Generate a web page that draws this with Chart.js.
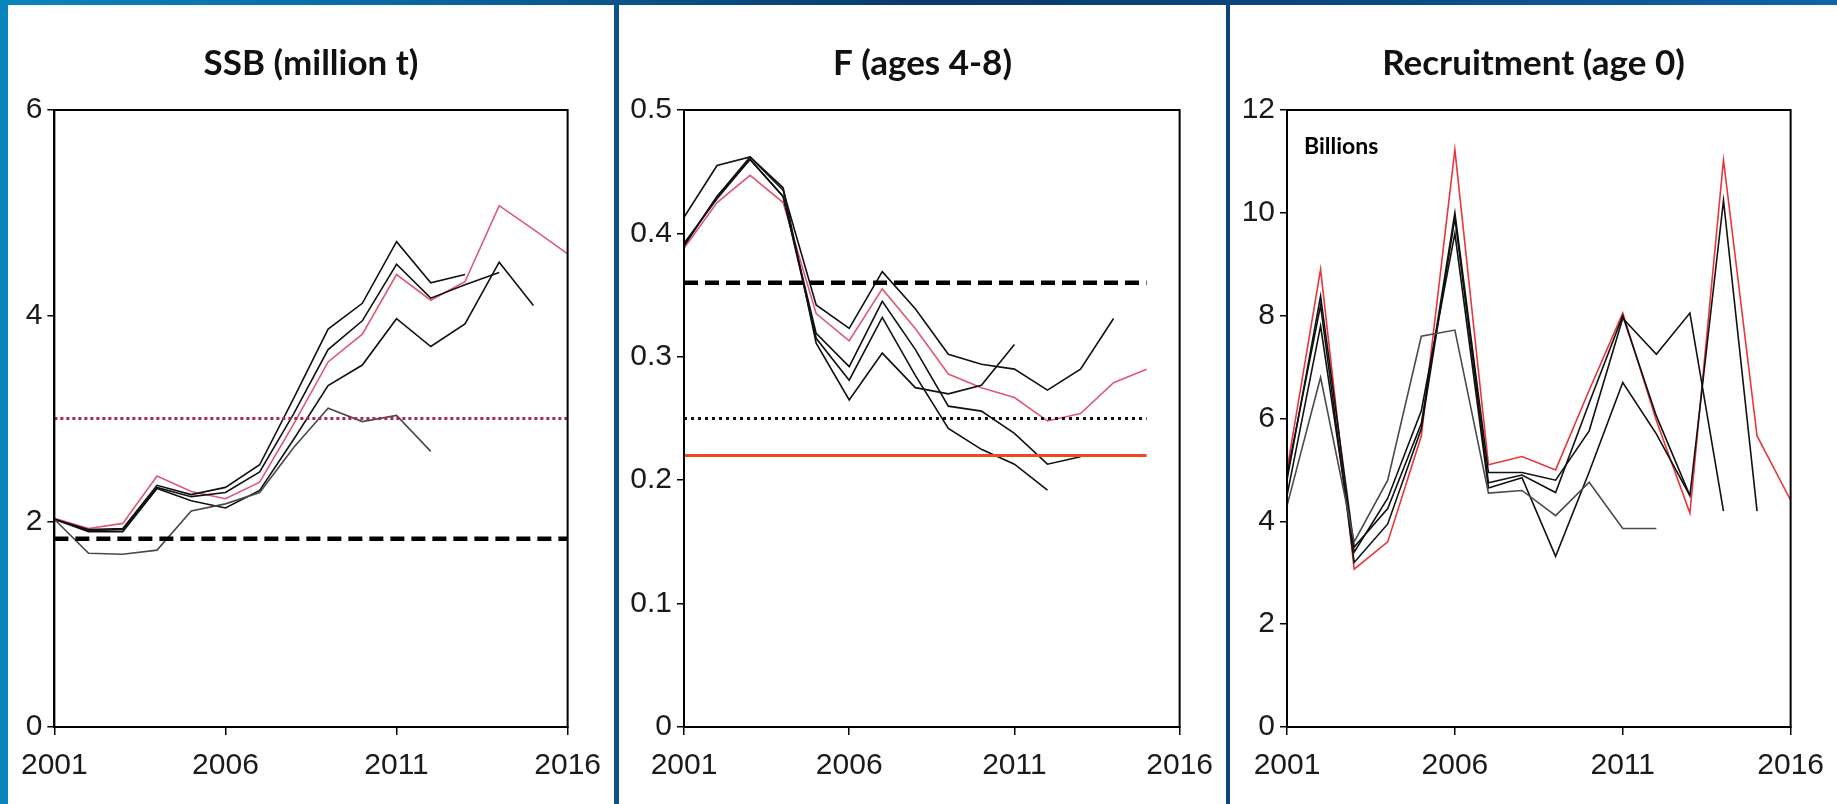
<!DOCTYPE html>
<html>
<head>
<meta charset="utf-8">
<title>Stock summary</title>
<script src="https://cdn.jsdelivr.net/npm/chart.js@4.4.1/dist/chart.umd.min.js"></script>
<style>
    html, body { margin: 0; padding: 0; }
    body {
        width: 1837px;
        height: 804px;
        overflow: hidden;
        position: relative;
        background: linear-gradient(90deg, #0a86bd 0%, #0a6aa4 20%, #0a3a6c 50%, #0b4a84 75%, #1064a6 100%);
    }
    .panel { position: absolute; top: 5px; height: 799px; background: #fff; }
    #p1 { left: 8px; width: 606px; }
    #p2 { left: 619px; width: 607px; }
    #p3 { left: 1230px; width: 607px; }
</style>
</head>
<body>
<div class="panel" id="p1"><canvas id="ssb-chart" width="606" height="799"></canvas></div>
<div class="panel" id="p2"><canvas id="f-chart" width="607" height="799"></canvas></div>
<div class="panel" id="p3"><canvas id="rec-chart" width="607" height="799"></canvas></div>
<script>
const years = [2001, 2002, 2003, 2004, 2005, 2006, 2007, 2008, 2009, 2010, 2011, 2012, 2013, 2014, 2015, 2016];
const yearTicks = [2001, 2006, 2011, 2016];

// spawning stock biomass (million t), one run per assessment
const ssb2012 = [2.02, 1.69, 1.68, 1.72, 2.10, 2.17, 2.28, 2.72, 3.10, 2.97, 3.03, 2.68];
const ssb2013 = [2.02, 1.92, 1.93, 2.35, 2.26, 2.33, 2.55, 3.20, 3.87, 4.12, 4.72, 4.32, 4.40];
const ssb2014 = [2.02, 1.91, 1.92, 2.33, 2.24, 2.28, 2.48, 3.05, 3.67, 3.95, 4.50, 4.17, 4.30, 4.42];
const ssb2015 = [2.02, 1.90, 1.90, 2.32, 2.20, 2.13, 2.30, 2.80, 3.32, 3.52, 3.97, 3.70, 3.92, 4.52, 4.10];
const ssb2016 = [2.03, 1.93, 1.98, 2.44, 2.29, 2.22, 2.38, 2.95, 3.55, 3.82, 4.40, 4.15, 4.33, 5.07, 4.84, 4.60];
const ssbBlim = 1.83;
const ssbBpa = 3.0;
const ssbTicks = [0, 2, 4, 6];

// fishing mortality, ages 4-8
const f2011 = [0.413, 0.455, 0.462, 0.437, 0.311, 0.265, 0.303, 0.275, 0.270, 0.277, 0.310];
const f2012 = [0.392, 0.428, 0.460, 0.430, 0.315, 0.281, 0.332, 0.285, 0.242, 0.225, 0.213, 0.192];
const f2013 = [0.390, 0.430, 0.460, 0.430, 0.319, 0.292, 0.345, 0.306, 0.260, 0.256, 0.238, 0.213, 0.219];
const f2014 = [0.390, 0.430, 0.462, 0.435, 0.342, 0.323, 0.369, 0.339, 0.302, 0.294, 0.290, 0.273, 0.290, 0.331];
const f2015 = [0.388, 0.425, 0.447, 0.425, 0.335, 0.313, 0.355, 0.323, 0.286, 0.275, 0.267, 0.248, 0.254, 0.279, 0.290];
const fLim = 0.36;
const fPa = 0.25;
const fMsy = 0.22;
const fRefLastYear = 2015;
const fTicks = [0, 0.1, 0.2, 0.3, 0.4, 0.5];

// recruitment at age 0 (billions)
const rec2012 = [4.30, 6.80, 3.60, 4.80, 7.60, 7.72, 4.55, 4.60, 4.11, 4.76, 3.86, 3.86];
const rec2013 = [4.50, 7.80, 3.40, 4.45, 6.15, 9.60, 4.65, 4.85, 3.32, 4.96, 6.70, 5.70, 4.50];
const rec2014 = [4.80, 8.38, 3.50, 4.25, 5.90, 10.00, 4.95, 4.95, 4.80, 5.76, 7.95, 7.25, 8.05, 4.20];
const rec2015 = [4.90, 8.20, 3.20, 3.95, 5.80, 9.90, 4.75, 4.90, 4.56, 6.30, 8.00, 6.05, 4.50, 10.24, 4.20];
const rec2016 = [5.00, 8.90, 3.07, 3.60, 5.66, 11.23, 5.10, 5.26, 5.00, 6.55, 8.05, 5.96, 4.16, 11.03, 5.66, 4.41];
const recTicks = [0, 2, 4, 6, 8, 10, 12];


const tickFont = { family: "'Liberation Sans', Arial, sans-serif", size: 30 };
const titleFont = { family: 'Lato, "Open Sans", sans-serif', size: 35, weight: 'bold' };

function toPoints(values) {
    return values.map((v, i) => ({ x: years[i], y: v }));
}

function runLine(values, color) {
    return {
        data: toPoints(values),
        borderColor: color,
        borderWidth: 1.6,
        pointRadius: 0,
        tension: 0,
        fill: false
    };
}

function refLine(value, lastYear, color, width, dash) {
    return {
        data: [{ x: years[0], y: value }, { x: lastYear, y: value }],
        borderColor: color,
        borderWidth: width,
        borderDash: dash,
        pointRadius: 0,
        fill: false
    };
}

// box round the plot area (Chart.js only draws the left and bottom axis lines)
const framePlugin = {
    id: 'frame',
    afterDatasetsDraw(chart) {
        const a = chart.chartArea;
        const ctx = chart.ctx;
        ctx.save();
        ctx.strokeStyle = '#000';
        ctx.lineWidth = 2;
        ctx.strokeRect(a.left, a.top, a.right - a.left, a.bottom - a.top);
        ctx.restore();
    }
};

const unitsPlugin = {
    id: 'units',
    afterDraw(chart) {
        const a = chart.chartArea;
        const ctx = chart.ctx;
        ctx.save();
        ctx.font = 'bold 23px Lato, sans-serif';
        ctx.fillStyle = '#000';
        ctx.textBaseline = 'middle';
        ctx.fillText('Billions', a.left + 17, a.top + 37);
        ctx.restore();
    }
};

function setupPanel(canvasId, title, datasets, yMax, yTicks, yWidth, rightGap, extraPlugins) {
    const ctx = document.getElementById(canvasId).getContext('2d');
    const config = {
        type: 'line',
        data: { datasets: datasets },
        options: {
            responsive: false,
            animation: false,
            devicePixelRatio: 1,
            layout: { padding: 0 },
            plugins: {
                legend: { display: false },
                tooltip: { enabled: false },
                title: {
                    display: true,
                    text: title,
                    color: '#111',
                    font: titleFont,
                    padding: { top: 38, bottom: 25 }
                }
            },
            scales: {
                x: {
                    type: 'linear',
                    min: years[0],
                    max: years[years.length - 1],
                    afterFit: (s) => { s.height = 77; },
                    afterBuildTicks: (s) => { s.ticks = yearTicks.map(v => ({ value: v })); },
                    border: { display: true, color: '#000', width: 2 },
                    grid: { drawOnChartArea: false, drawTicks: true, tickLength: 8, color: '#000', lineWidth: 1.5 },
                    ticks: { padding: 13, color: '#1a1a1a', font: tickFont, maxRotation: 0, autoSkip: false, callback: v => String(v) }
                },
                y: {
                    min: 0,
                    max: yMax,
                    afterFit: (s) => { s.width = yWidth; },
                    afterBuildTicks: (s) => { s.ticks = yTicks.map(v => ({ value: v })); },
                    border: { display: true, color: '#000', width: 2 },
                    grid: { drawOnChartArea: false, drawTicks: true, tickLength: 7, color: '#000', lineWidth: 1.5 },
                    ticks: { padding: 5, color: '#1a1a1a', font: tickFont, autoSkip: false, callback: v => String(Math.round(v * 10) / 10) }
                },
                // empty right-hand strip so the title stays centred on the panel
                gap: {
                    type: 'linear',
                    position: 'right',
                    display: true,
                    afterFit: (s) => { s.width = rightGap; },
                    border: { display: false },
                    grid: { display: false },
                    ticks: { display: false }
                }
            }
        },
        plugins: [framePlugin].concat(extraPlugins || [])
    };
    return new Chart(ctx, config);
}

const black = '#111';
const grey = '#4a4a4a';
const pink = '#dc5a78';
const red = '#e8363c';

const ssbChart = setupPanel('ssb-chart', 'SSB (million t)', [
    refLine(ssbBpa, years[years.length - 1], '#a82a48', 3, [3, 3]),
    refLine(ssbBlim, years[years.length - 1], '#000', 4.5, [14, 7]),
    runLine(ssb2012, grey),
    runLine(ssb2013, black),
    runLine(ssb2014, black),
    runLine(ssb2015, black),
    runLine(ssb2016, pink)
], 6, ssbTicks, 45, 37);

const fChart = setupPanel('f-chart', 'F (ages 4-8)', [
    refLine(fLim, fRefLastYear, '#000', 4.5, [14, 7]),
    refLine(fPa, fRefLastYear, '#111', 3, [3, 4]),
    refLine(fMsy, fRefLastYear, '#ee4a22', 3, []),
    runLine(f2011, black),
    runLine(f2012, black),
    runLine(f2013, black),
    runLine(f2014, black),
    runLine(f2015, pink)
], 0.5, fTicks, 65, 38);

const recChart = setupPanel('rec-chart', 'Recruitment (age 0)', [
    runLine(rec2012, grey),
    runLine(rec2013, black),
    runLine(rec2014, black),
    runLine(rec2015, black),
    runLine(rec2016, red)
], 12, recTicks, 57, 38, [unitsPlugin]);
</script>
</body>
</html>
